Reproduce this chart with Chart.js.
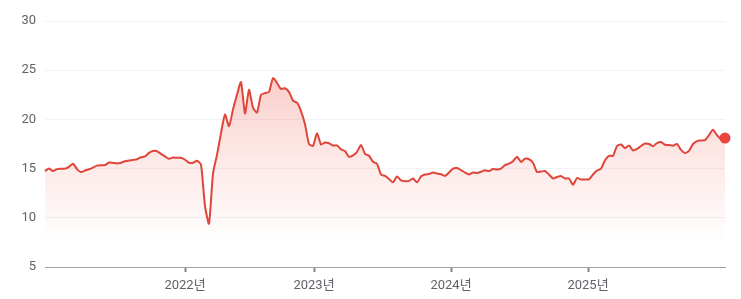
<!DOCTYPE html>
<html>
<head>
<meta charset="utf-8">
<script src="https://cdn.jsdelivr.net/npm/chart.js@4"></script>
<style>
  html, body { margin: 0; padding: 0; background: #fff; }
  #wrap { width: 741px; height: 299px; }
</style>
</head>
<body>
<div id="wrap"><canvas id="priceChart" width="741" height="299"></canvas></div>
<script>
// weekly-ish samples, left to right
const values = [
  14.75, 15.0, 14.75, 14.95, 14.98, 15.0, 15.18, 15.5, 14.95, 14.65,
  14.8, 14.93, 15.1, 15.3, 15.35, 15.35, 15.62, 15.58, 15.52, 15.6,
  15.75, 15.83, 15.88, 15.95, 16.15, 16.24, 16.6, 16.78, 16.77, 16.5,
  16.24, 16.0, 16.12, 16.1, 16.1, 15.9, 15.6, 15.6, 15.8, 15.4,
  11.2, 9.4, 14.5, 16.4, 18.6, 20.5, 19.3, 21.0, 22.5, 23.8,
  20.6, 23.0, 21.2, 20.7, 22.5, 22.67, 22.8, 24.2, 23.7, 23.1,
  23.17, 22.8, 21.9, 21.7, 20.85, 19.5, 17.5, 17.3, 18.6, 17.45,
  17.65, 17.58, 17.35, 17.35, 16.95, 16.78, 16.2, 16.35, 16.7, 17.4,
  16.5, 16.3, 15.7, 15.5, 14.4, 14.25, 13.95, 13.6, 14.2, 13.8,
  13.72, 13.75, 14.0, 13.6, 14.2, 14.4, 14.45, 14.6, 14.5, 14.42,
  14.25, 14.6, 15.0, 15.06, 14.85, 14.6, 14.4, 14.6, 14.55, 14.68,
  14.82, 14.75, 14.95, 14.9, 15.0, 15.35, 15.5, 15.75, 16.2, 15.68,
  16.0, 15.95, 15.6, 14.65, 14.7, 14.75, 14.4, 14.0, 14.14, 14.25,
  14.0, 14.0, 13.35, 14.04, 13.9, 13.9, 13.9, 14.4, 14.8, 15.0,
  15.85, 16.3, 16.3, 17.3, 17.45, 17.08, 17.35, 16.85, 17.0, 17.3,
  17.55, 17.5, 17.28, 17.6, 17.7, 17.42, 17.4, 17.33, 17.5, 16.9,
  16.58, 16.8, 17.5, 17.8, 17.86, 17.9, 18.4, 18.95, 18.4, 18.0,
  18.1
];
const yearTickPos = [35, 67.25, 101.5, 135.75];
const yearLabels = ['2022년', '2023년', '2024년', '2025년'];
const yTicks = [5, 10, 15, 20, 25, 30];

const lastIdx = values.length - 1;
const points = values.map((v, i) => ({ x: i, y: v }));

function fillGradient(context) {
  const { ctx, chartArea } = context.chart;
  if (!chartArea) return 'rgba(234,67,53,0.1)';
  const g = ctx.createLinearGradient(0, chartArea.top, 0, chartArea.bottom);
  g.addColorStop(0, 'rgba(234,67,53,0.38)');
  g.addColorStop(0.45, 'rgba(234,67,53,0.16)');
  g.addColorStop(0.9, 'rgba(234,67,53,0.0)');
  return g;
}

const font = { family: "Roboto, 'Noto Sans CJK KR', sans-serif", size: 13 };

new Chart(document.getElementById('priceChart').getContext('2d'), {
  type: 'line',
  data: {
    datasets: [{
      data: points,
      borderColor: '#e0453a',
      borderWidth: 2,
      backgroundColor: fillGradient,
      fill: 'start',
      tension: 0.2,
      clip: false,
      pointRadius: ctx => ctx.dataIndex === lastIdx ? 5.5 : 0,
      pointHoverRadius: 0,
      pointBackgroundColor: '#e8453c',
      pointBorderWidth: 0
    }]
  },
  options: {
    responsive: false,
    animation: false,
    layout: { padding: { top: 21, right: 16, left: 0, bottom: 0 } },
    plugins: { legend: { display: false }, tooltip: { enabled: false } },
    scales: {
      x: {
        type: 'linear',
        min: 0,
        max: lastIdx,
        afterBuildTicks: axis => { axis.ticks = yearTickPos.map(v => ({ value: v })); },
        afterFit: axis => { axis.height = 32; },
        ticks: {
          autoSkip: false,
          maxRotation: 0,
          padding: 6,
          color: '#5f6368',
          font,
          callback: (v, i) => yearLabels[i]
        },
        grid: { drawOnChartArea: false, drawTicks: true, tickLength: 5, tickWidth: 2, color: '#80868b' },
        border: { display: true, color: '#9aa0a6', width: 1 }
      },
      y: {
        min: 5,
        max: 30,
        afterBuildTicks: axis => { axis.ticks = yTicks.map(v => ({ value: v })); },
        afterFit: axis => { axis.width = 45; },
        ticks: { padding: 9, color: '#5f6368', font },
        grid: { color: '#f1f3f4', drawTicks: false },
        border: { display: false }
      }
    }
  }
});
</script>
</body>
</html>
